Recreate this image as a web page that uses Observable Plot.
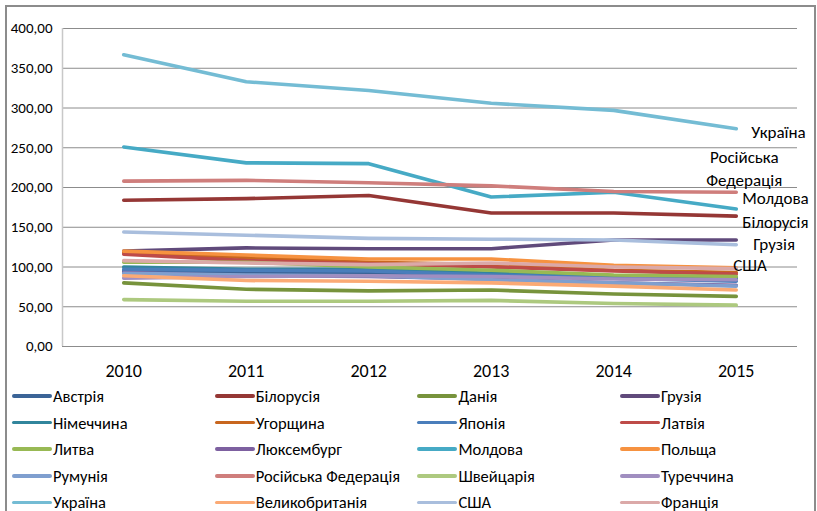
<!DOCTYPE html>
<html><head><meta charset="utf-8">
<script src="https://cdn.jsdelivr.net/npm/d3@7"></script>
<script src="https://cdn.jsdelivr.net/npm/@observablehq/plot@0.6"></script>
<style>
body{margin:0;background:#fff;font-family:Carlito,Calibri,Lato,sans-serif;}
#wrap{position:relative;width:817px;height:511px;overflow:hidden;background:#fff}
#frame{position:absolute;left:5px;top:5px;width:811px;height:530px;border:2px solid #8c8c8c;box-sizing:border-box}
#chart{position:absolute;left:0;top:0}
.item{position:absolute;display:flex;align-items:center;font-size:16.5px;color:#000;white-space:nowrap;height:20px}
.sw{width:40px;height:3.5px;margin-right:1px;border-radius:2px}
</style></head>
<body>
<div id="wrap"><div id="frame"></div><div id="chart"></div><div id="legend"></div></div>
<script>
const years = [2010, 2011, 2012, 2013, 2014, 2015];
const yTicks = [0, 50, 100, 150, 200, 250, 300, 350, 400];
const countries = ["Австрія","Білорусія","Данія","Грузія","Німеччина","Угорщина","Японія","Латвія","Литва","Люксембург","Молдова","Польща","Румунія","Російська Федерація","Швейцарія","Туреччина","Україна","Великобританія","США","Франція"];
const colors = ["#3b6497","#953735","#77933c","#604a7b","#31859c","#c8661e","#4a7ebb","#be4b48","#98b954","#7d60a0","#46aac5","#f69240","#7f9fcf","#cf7e7c","#adc97f","#a08ec0","#74bcd4","#fbaa75","#a9bedd","#dba9a8"];
const values = [
  [95, 93, 92, 89, 86, 85],
  [184, 186, 190, 168, 168, 164],
  [80, 72, 70, 71, 66, 63],
  [120, 124, 123, 123, 134, 134],
  [100, 97, 97, 92, 89, 86],
  [118, 112, 106, 103, 96, 93],
  [97, 96, 95, 90, 86, 82],
  [116, 108, 104, 100, 95, 91],
  [106, 106, 100, 96, 90, 88],
  [93, 89, 88, 85, 80, 77],
  [251, 231, 230, 188, 194, 173],
  [120, 115, 110, 110, 102, 99],
  [92, 90, 89, 84, 80, 76],
  [208, 209, 206, 202, 195, 194],
  [59, 57, 57, 58, 54, 52],
  [86, 88, 89, 88, 85, 84],
  [367, 333, 322, 306, 297, 274],
  [89, 83, 82, 80, 76, 71],
  [144, 140, 136, 135, 134, 128],
  [108, 105, 103, 105, 100, 98]
];
const labelled = ["Україна","Російська Федерація","Молдова","Білорусія","Грузія","США"];

const rows = [];
countries.forEach((c, i) => years.forEach((y, j) => rows.push({country: c, year: y, value: values[i][j]})));
const last = rows.filter(d => d.year === years[years.length - 1] && labelled.includes(d.country));

const labelOffsets = {
  "Україна": {dx: 15, dy: 2, anchor: "start"},
  "Російська Федерація": {dx: 8, dy: -25, anchor: "middle"},
  "Молдова": {dx: 6, dy: -12, anchor: "start"},
  "Білорусія": {dx: 6, dy: 5, anchor: "start"},
  "Грузія": {dx: 17, dy: 3, anchor: "start"},
  "США": {dx: -3, dy: 19, anchor: "start"}
};
const font = "Carlito, Calibri, Lato, sans-serif";
const labelMarks = last.map(d => {
  const o = labelOffsets[d.country];
  return Plot.text([d], {x: "year", y: "value", text: t => t.country.replace(" ", "\n"),
    dx: o.dx, dy: o.dy, textAnchor: o.anchor, fontSize: 17, lineHeight: 1.35, fill: "#000"});
});

const chart = Plot.plot({
  width: 817, height: 385,
  marginLeft: 62, marginRight: 20, marginTop: 28, marginBottom: 39,
  style: {fontFamily: font, fontSize: "15px", color: "#000", background: "transparent", overflow: "visible"},
  x: {domain: [years[0] - 0.5, years[years.length - 1] + 0.5], ticks: years, tickFormat: d => String(d), label: null, tickSize: 0, tickPadding: 18},
  y: {domain: [yTicks[0], yTicks[yTicks.length - 1]], ticks: yTicks, tickFormat: d => d.toFixed(2).replace(".", ","), label: null, tickSize: 0, tickPadding: 10},
  color: {domain: countries, range: colors},
  marks: [
    Plot.gridY(yTicks, {stroke: "#8c8c8c", strokeOpacity: 1, strokeWidth: 1}),
    Plot.ruleX([years[0] - 0.5], {stroke: "#c8c8c8", strokeWidth: 1.5}),
    Plot.axisY({ticks: yTicks, tickSize: 0, tickPadding: 10, tickFormat: d => d.toFixed(2).replace(".", ","), fontSize: 15, label: null}),
    Plot.axisX({ticks: years, tickSize: 0, tickPadding: 18, tickFormat: d => String(d), fontSize: 18, label: null}),
    Plot.lineY(rows, {x: "year", y: "value", z: "country", stroke: "country", strokeWidth: 3.6, strokeLinejoin: "round", strokeLinecap: "round"}),
    ...labelMarks
  ]
});
document.getElementById("chart").appendChild(chart);

const legend = document.getElementById("legend");
countries.forEach((c, i) => {
  const col = i % 4, row = Math.floor(i / 4);
  const el = document.createElement("div");
  el.className = "item";
  el.style.left = (12 + col * 202.7) + "px";
  el.style.top = (386 + row * 26.6) + "px";
  el.innerHTML = `<span class="sw" style="background:${colors[i]}"></span><span>${c}</span>`;
  legend.appendChild(el);
});
</script>
</body></html>
